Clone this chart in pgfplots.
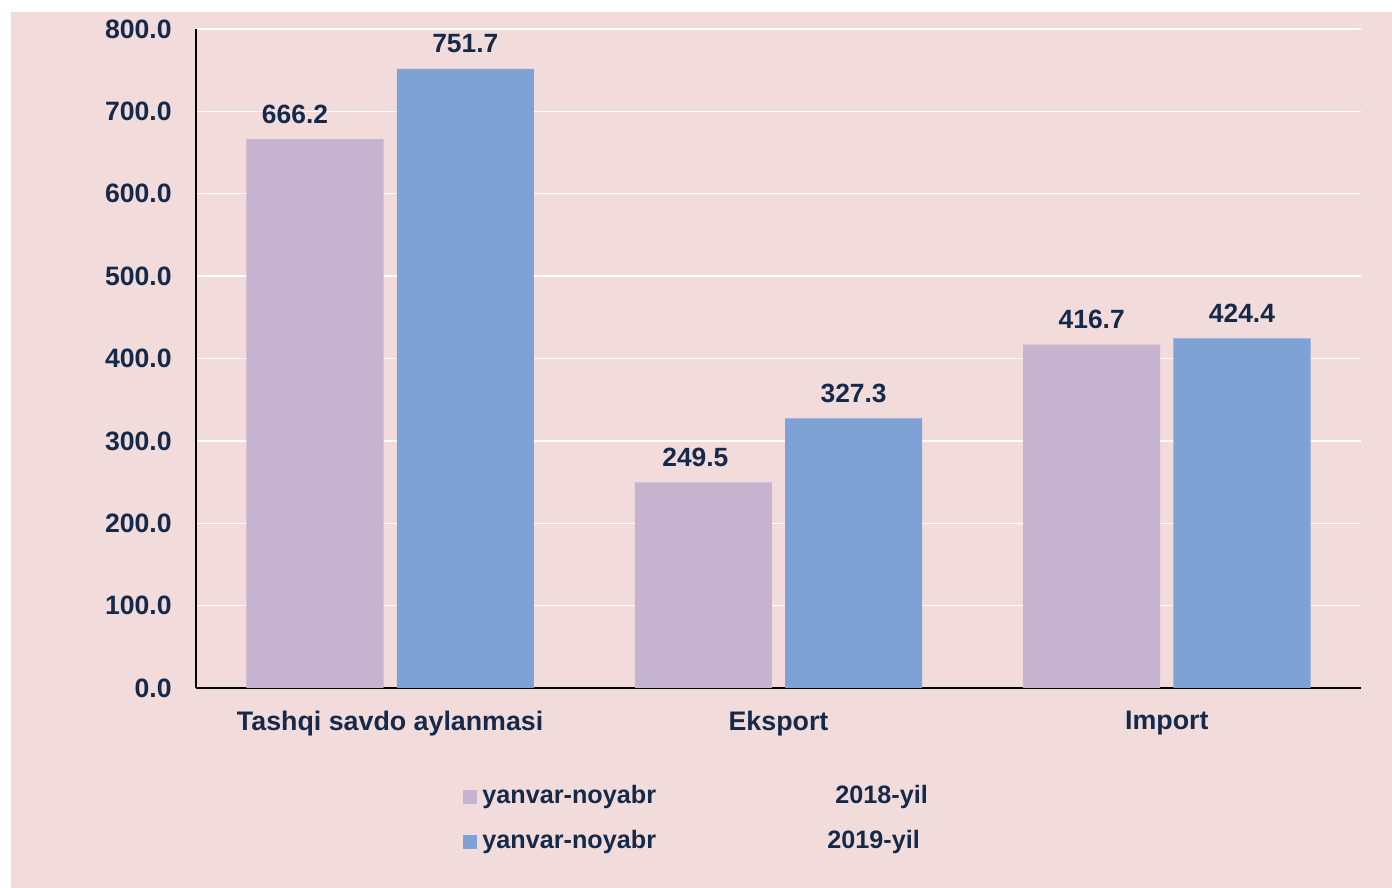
\documentclass[border=0pt]{standalone}
\usepackage{pgfplots}
\usepackage{pgfplotstable}
\pgfplotsset{compat=1.18}
\usepackage{fontspec}
\setmainfont{Liberation Sans}
\definecolor{bgpink}{HTML}{F2DCDB}
\definecolor{lav}{HTML}{C5B3CF}
\definecolor{blu}{HTML}{7EA2D5}
\definecolor{txt}{HTML}{152A4A}

\pgfplotstableread{
x y
0 666.2
1 249.5
2 416.7
}\dataA
\pgfplotstableread{
x y
0 751.7
1 327.3
2 424.4
}\dataB

\newcommand{\lblA}[1]{\ifnum\coordindex=0 \hspace*{-20pt}\fi\ifnum\coordindex=1 \hspace*{-8pt}\fi#1}

\begin{document}
\begin{tikzpicture}
\useasboundingbox (0,0) rectangle (696pt,444pt);
\fill[white] (0,0) rectangle (696pt,444pt);
\fill[bgpink] (5.5pt,0) rectangle (696pt,438pt);
\begin{axis}[
  at={(98pt,100pt)}, anchor=south west,
  scale only axis, width=582.5pt, height=329.5pt,
  xmin=-0.5, xmax=2.5, ymin=0, ymax=800,
  axis x line=bottom, axis y line=left,
  axis line style={black, line width=1pt, -},
  ybar, bar width=0.353,
  ytick={0,100,...,800},
  xtick={0,1,2}, xticklabels={Tashqi savdo aylanmasi, Eksport, Import},
  major tick length=0pt,
  ymajorgrids, grid style={white, line width=0.7pt},
  /pgf/number format/assume math mode=true,
  yticklabel={\pgfmathprintnumber[fixed, fixed zerofill, precision=1]{\tick}},
  yticklabel style={font=\fontsize{13.3}{15}\selectfont\bfseries, text=txt, inner sep=0pt, anchor=east, xshift=-12pt},
  xticklabel style={font=\fontsize{13.4}{15}\selectfont\bfseries, text=txt, inner sep=0pt, anchor=north, yshift=-11.5pt},
  nodes near coords style={font=\fontsize{13.2}{15}\selectfont\bfseries, text=txt, inner sep=0pt, anchor=base, yshift=8pt},
  legend style={at={(0.2292,-0.1442)}, anchor=north west, draw=none, fill=none,
    inner sep=0pt, row sep=8.6pt, column sep=1.5pt,
    font=\fontsize{12.6}{15}\selectfont\bfseries, text=txt,
    nodes={inner sep=1pt, text height=9.2pt, text depth=2.7pt}},
  legend cell align=left,
]
\addplot[draw=none, fill=lav, bar shift=-0.1935,
  nodes near coords={\lblA{\pgfmathprintnumber[fixed, fixed zerofill, precision=1]{\pgfplotspointmeta}}},
  legend image code/.code={\fill[lav] (0pt,-3.5pt) rectangle (7pt,3.5pt);}]
  table[x=x, y=y] {\dataA};
\addlegendentry{\makebox[176.5pt][l]{yanvar-noyabr}2018-yil}
\addplot[draw=none, fill=blu, bar shift=0.1935,
  nodes near coords={\pgfmathprintnumber[fixed, fixed zerofill, precision=1]{\pgfplotspointmeta}},
  legend image code/.code={\fill[blu] (0pt,-3.5pt) rectangle (7pt,3.5pt);}]
  table[x=x, y=y] {\dataB};
\addlegendentry{\makebox[172.5pt][l]{yanvar-noyabr}2019-yil}
\end{axis}
\end{tikzpicture}
\end{document}
